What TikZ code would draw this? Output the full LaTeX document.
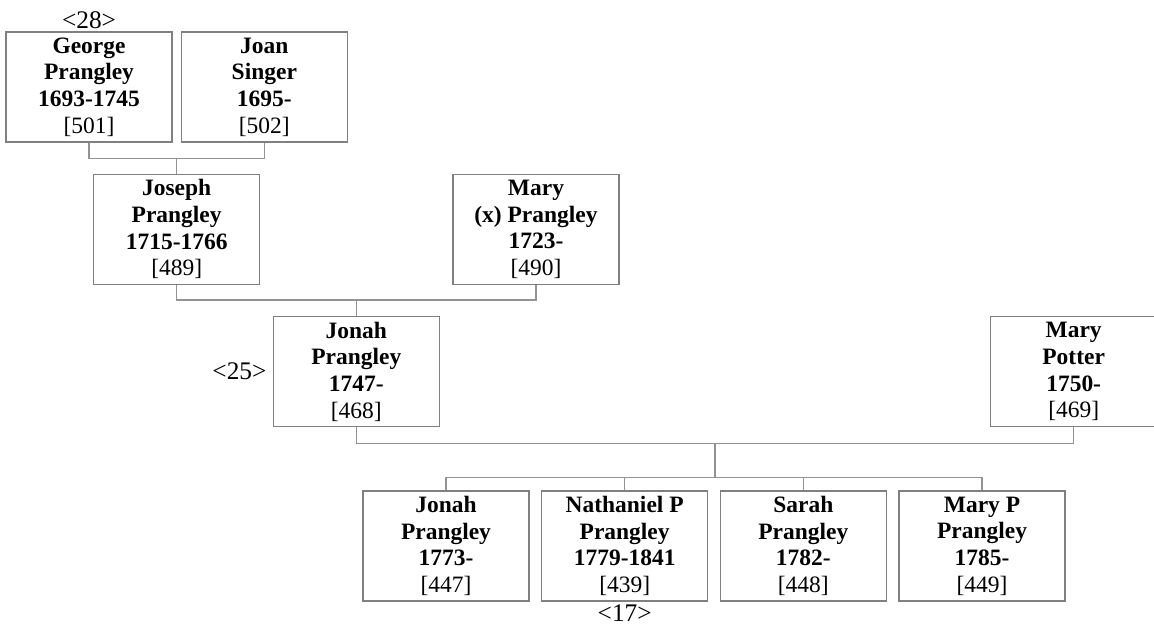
\documentclass[tikz,border=0pt]{standalone}
\usepackage{fontspec}
\setmainfont{Liberation Serif}
\usetikzlibrary{positioning, calc}

\begin{document}
\begin{tikzpicture}[
    x=0.75pt, y=-0.75pt,
    person/.style={rectangle, draw=gray, line width=1pt, fill=white,
      minimum width=124.5pt, minimum height=82.5pt, inner sep=0pt,
      align=center, font=\fontsize{17.6}{20}\selectfont\bfseries},
    link/.style={draw=gray!85, line width=1pt},
    tag/.style={inner sep=0pt, font=\fontsize{19}{22}\selectfont}
]
\useasboundingbox (0,0) rectangle (1154,626);

% grandparents
\node[person] (george) at (89,87) {George\\Prangley\\1693-1745\\\textnormal{[501]}};
\node[person, right=6pt of george] (joan) {Joan\\Singer\\1695-\hspace*{.3em}\\\textnormal{[502]}};
\coordinate (bar1) at ($(george.south)!0.5!(joan.south) + (0,16)$);

% parents
\node[person, below=23.25pt of {$(george.south)!0.5!(joan.south)$}] (joseph) {Joseph\\Prangley\\1715-1766\\\textnormal{[489]}};
\node[person, right=144pt of joseph] (maryx) {Mary\\(x) Prangley\\1723-\hspace*{.3em}\\\textnormal{[490]}};
\coordinate (bar2) at ($(joseph.south)!0.5!(maryx.south) + (0,15)$);

% couple
\node[person, below=23.25pt of {$(joseph.south)!0.5!(maryx.south)$}] (jonah) {Jonah\\Prangley\\1747-\hspace*{.3em}\\\textnormal{[468]}};
\node[person, right=412.5pt of jonah] (potter) {Mary\\Potter\\1750-\hspace*{.3em}\\\textnormal{[469]}};
\coordinate (bar3) at ($(jonah.south)!0.5!(potter.south) + (0,16)$);
\coordinate (kids) at ($(bar3) + (0,34)$);

% children
\node[person] (jonahjr) at (446,546) {Jonah\\Prangley\\1773-\hspace*{.3em}\\\textnormal{[447]}};
\node[person, right=8.5pt of jonahjr] (nathaniel) {Nathaniel P\\Prangley\\1779-1841\\\textnormal{[439]}};
\node[person, right=8.5pt of nathaniel] (sarah) {Sarah\\Prangley\\1782-\hspace*{.3em}\\\textnormal{[448]}};
\node[person, right=8.5pt of sarah] (maryp) {Mary P\\Prangley\\1785-\hspace*{.3em}\\\textnormal{[449]}};

% reference numbers
\node[tag, above=1.5pt of george] (ref28) {<28>};
\node[tag, left=4.5pt of jonah] (ref25) {<25>};
\node[tag, below=2pt of nathaniel] (ref17) {<17>};

% lines
\draw[link] (george.south) |- (bar1) -| (joan.south);
\draw[link] (bar1) -- (joseph.north);
\draw[link] (joseph.south) |- (bar2) -| (maryx.south);
\draw[link] (bar2) -- (jonah.north);
\draw[link] (jonah.south) |- (bar3) -| (potter.south);
\draw[link] (bar3) -- (kids);
\draw[link] (jonahjr.north) |- (kids) -| (maryp.north);
\draw[link] (nathaniel.north) -- (nathaniel.north |- kids);
\draw[link] (sarah.north) -- (sarah.north |- kids);
\end{tikzpicture}
\end{document}
